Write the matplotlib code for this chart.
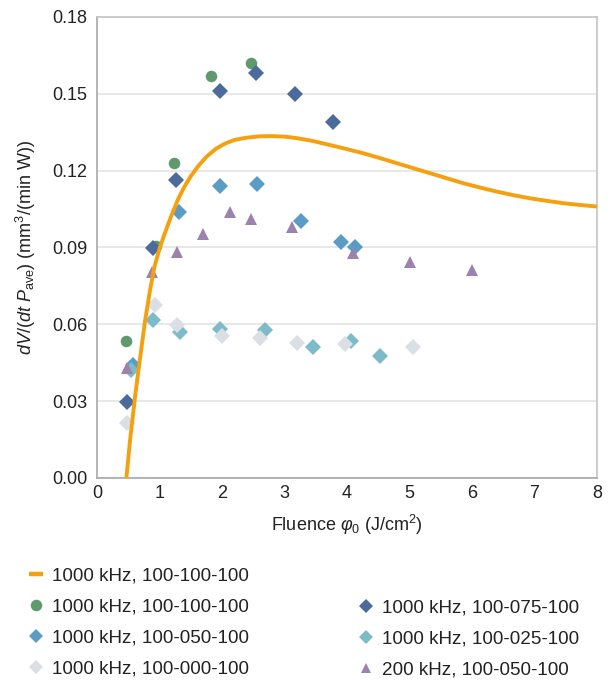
import matplotlib
matplotlib.use("Agg")
import matplotlib.pyplot as plt
from matplotlib.lines import Line2D

plt.rcParams['font.family'] = ['Liberation Sans', 'DejaVu Sans']
plt.rcParams['font.size'] = 13
plt.rcParams['mathtext.fontset'] = 'custom'
plt.rcParams['mathtext.rm'] = 'Liberation Sans'
plt.rcParams['mathtext.it'] = 'Liberation Sans:italic'

# --- model curve, 1000 kHz 100-100-100 ---
model_x = [0.47, 0.53, 0.61, 0.69, 0.77, 0.85, 0.92, 1.0, 1.07, 1.14,
           1.22, 1.3, 1.4, 1.5, 1.62, 1.75, 1.9, 2.05, 2.2, 2.4,
           2.6, 2.8, 3.0, 3.2, 3.45, 3.73, 4.0, 4.26, 4.53, 4.8,
           5.07, 5.33, 5.6, 5.86, 6.13, 6.4, 6.67, 6.93, 7.2, 7.46,
           7.73, 8.0]
model_y = [0.0, 0.015, 0.032, 0.047, 0.0615, 0.0735, 0.0825, 0.0895, 0.0945, 0.0992,
           0.1043, 0.1090, 0.1138, 0.1178, 0.1218, 0.1254, 0.1285, 0.1306, 0.1320, 0.1329,
           0.1334, 0.1335, 0.1333, 0.1327, 0.1316, 0.1300, 0.1284, 0.1268, 0.1249, 0.1229,
           0.1209, 0.1190, 0.1170, 0.1151, 0.1134, 0.1118, 0.1104, 0.1092, 0.1082, 0.1073,
           0.1066, 0.1060]

# --- measured removal rates ---
p100_x = [0.47, 0.95, 1.23, 1.82, 2.47]
p100_y = [0.0535, 0.0905, 0.123, 0.157, 0.162]

p075_x = [0.48, 0.90, 1.27, 1.96, 2.54, 3.17, 3.77]
p075_y = [0.0297, 0.0898, 0.1165, 0.151, 0.158, 0.150, 0.139]

p050_x = [0.57, 1.31, 1.96, 2.56, 3.27, 3.90, 4.13]
p050_y = [0.044, 0.104, 0.114, 0.1148, 0.1003, 0.092, 0.090]

p025_x = [0.55, 0.90, 1.33, 1.96, 2.69, 3.45, 4.06, 4.52]
p025_y = [0.042, 0.0617, 0.0572, 0.0580, 0.0578, 0.0513, 0.0535, 0.0476]

p000_x = [0.485, 0.93, 1.285, 2.0, 2.6, 3.2, 3.97, 5.06]
p000_y = [0.0213, 0.0675, 0.0597, 0.0553, 0.0545, 0.0526, 0.0523, 0.0512]

k200_x = [0.48, 0.885, 1.285, 1.69, 2.13, 2.46, 3.12, 4.09, 5.0, 6.0]
k200_y = [0.043, 0.0806, 0.0881, 0.0953, 0.1037, 0.101, 0.0981, 0.0877, 0.0845, 0.0812]

labels = ['1000 kHz, 100-100-100', '1000 kHz, 100-100-100', '1000 kHz, 100-075-100',
          '1000 kHz, 100-050-100', '1000 kHz, 100-025-100', '1000 kHz, 100-000-100',
          '200 kHz, 100-050-100']

ORANGE = '#F5A00F'
C_GREEN = '#5E9A6C'
C_DARK = '#4A6B9B'
C_MED = '#5B9CC7'
C_CYAN = '#7DBBC9'
C_GREY = '#DADFE6'
C_PURPLE = '#9B82AF'

fig = plt.figure(figsize=(6.16, 6.8), dpi=100)
ax = fig.add_axes([97/616, 1 - 478/680, 500/616, 461/680])

ms = 8.3
dms = 7.8   # diamond size
ax.plot(p100_x, p100_y, 'o', color=C_GREEN, ms=ms, mew=0, zorder=3)
ax.plot(p075_x, p075_y, 'D', color=C_DARK, ms=dms, mew=0, zorder=3)
ax.plot(p050_x, p050_y, 'D', color=C_MED, ms=dms, mew=0, zorder=3)
ax.plot(p025_x, p025_y, 'D', color=C_CYAN, ms=dms, mew=0, zorder=3)
ax.plot(p000_x, p000_y, 'D', color=C_GREY, ms=dms, mew=0, zorder=3)
ax.plot(k200_x, k200_y, '^', color=C_PURPLE, ms=ms, mew=0, zorder=3)
ax.plot(model_x, model_y, '-', color=ORANGE, lw=2.8, solid_joinstyle='round',
        solid_capstyle='butt', zorder=4)

ax.set_xlim(0, 8)
ax.set_ylim(0, 0.18)
ax.set_xticks(range(0, 9))
ax.set_yticks([0.0, 0.03, 0.06, 0.09, 0.12, 0.15, 0.18])
ax.set_yticklabels(['%.2f' % v for v in ax.get_yticks()])
ax.tick_params(length=0, labelsize=13, colors='#222222')
ax.tick_params(axis='y', pad=7)
ax.tick_params(axis='x', pad=5)
ax.yaxis.grid(True, color='#e4e4e4', lw=1.2)
ax.set_axisbelow(True)
for s in ax.spines.values():
    s.set_color('#c4c4c4')
    s.set_linewidth(1.2)
ax.spines['left'].set_color('#a8a8a8')
ax.spines['bottom'].set_color('#a8a8a8')

ax.set_xlabel(r'Fluence $φ_0$ (J/cm$^2$)', fontsize=13, labelpad=8, color='#222222')
ax.set_ylabel(r'$dV/(dt\ P_{\mathrm{ave}})$ (mm$^3$/(min W))', fontsize=13,
              labelpad=10, color='#222222')

# legend split into two columns
h_line = Line2D([], [], color=ORANGE, marker='_', ms=10, mew=3.2, ls='none')
h_green = Line2D([], [], color=C_GREEN, marker='o', ms=ms, mew=0, ls='none')
h_dark = Line2D([], [], color=C_DARK, marker='D', ms=dms * 0.9, mew=0, ls='none')
h_med = Line2D([], [], color=C_MED, marker='D', ms=dms * 0.9, mew=0, ls='none')
h_cyan = Line2D([], [], color=C_CYAN, marker='D', ms=dms * 0.9, mew=0, ls='none')
h_grey = Line2D([], [], color=C_GREY, marker='D', ms=dms * 0.9, mew=0, ls='none')
h_tri = Line2D([], [], color=C_PURPLE, marker='^', ms=ms * 0.8, mew=0, ls='none')

leg_kw = dict(loc='upper left', frameon=False, fontsize=13.6, handlelength=1.0,
              handletextpad=0.3, labelspacing=0.74, borderpad=0, borderaxespad=0)
leg1 = fig.legend([h_line, h_green, h_med, h_grey],
                  [labels[0], labels[1], labels[3], labels[5]],
                  bbox_to_anchor=(27/616, 1 - 567/680), **leg_kw)
leg2 = fig.legend([h_dark, h_cyan, h_tri],
                  [labels[2], labels[4], labels[6]],
                  bbox_to_anchor=(357/616, 1 - 599/680), **leg_kw)
for leg in (leg1, leg2):
    for t in leg.get_texts():
        t.set_color('#222222')

fig.savefig('out.png', dpi=100)
